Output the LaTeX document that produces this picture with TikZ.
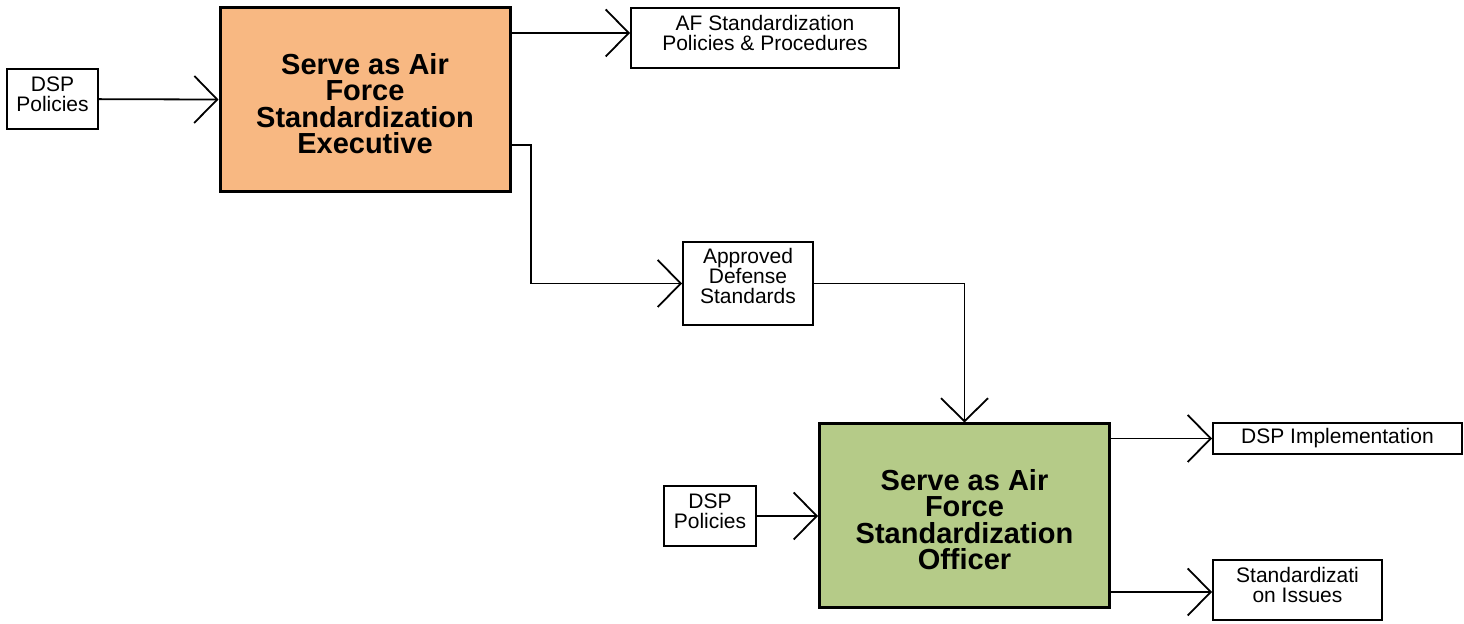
\documentclass[tikz,border=0pt]{standalone}
\usepackage{fontspec}
\setmainfont{Liberation Sans}
\usetikzlibrary{arrows.meta,positioning}

\definecolor{execorange}{RGB}{248,184,130}
\definecolor{offgreen}{RGB}{181,203,136}

\begin{document}
\begin{tikzpicture}[
    x=0.5pt, y=-0.5pt,
    item/.style={rectangle, draw=black, line width=1pt, fill=white,
      inner sep=0pt, align=center,
      font=\fontsize{10.5}{10.3}\selectfont},
    twoline/.style={text height=17.3pt, text depth=4.6pt},
    threeline/.style={text height=26.8pt, text depth=7pt,
      font=\fontsize{10.5}{9.9}\selectfont},
    task/.style={rectangle, draw=black, line width=1.5pt,
      inner sep=0pt, align=center,
      minimum width=145pt, minimum height=92pt,
      text height=60pt, text depth=6.4pt,
      font=\fontsize{14.5}{13.2}\selectfont\bfseries},
    arr/.style={-{Straight Barb[length=11.5pt, width=23.5pt, line width=0.9pt]},
      line width=0.9pt, draw=black}
  ]
    \useasboundingbox (0,0) rectangle (1464,624);

    \node[item, twoline, minimum width=45.5pt, minimum height=30pt] (dspin) at (52.5,99) {DSP\\Policies};
    \node[task, fill=execorange] (exec) at (365,100) {Serve as Air\\Force\\Standardization\\Executive};
    \node[item, twoline, minimum width=134pt, minimum height=30pt] (afpol) at (765,38) {AF Standardization\\Policies \& Procedures};
    \node[item, threeline, minimum width=65pt, minimum height=41.5pt] (ads) at (748,283.5) {Approved\\Defense\\Standards};

    \node[task, fill=offgreen] (off) at (964.5,516) {Serve as Air\\Force\\Standardization\\Officer};
    \node[item, twoline, minimum width=46pt, minimum height=30pt] (dspin2) at (710,516) {DSP\\Policies};
    \node[item, minimum width=124.5pt, minimum height=15.5pt] (dspimp) at (1337.5,438.5) {DSP Implementation};
    \node[item, twoline, minimum width=84.5pt, minimum height=30pt] (issues) at (1297.5,590) {Standardizati\\on Issues};

    \coordinate (bend) at (531,145);

    \draw[arr] (dspin) -- (exec);
    \draw[arr] ([yshift=2.5pt]exec.east |- afpol.west) -- ([yshift=2.5pt]afpol.west);
    \draw[arr] (exec.east |- bend) -- (bend) |- (ads.west);
    \draw[arr] (ads.east) -| (off.north);
    \draw[arr] (dspin2) -- (off);
    \draw[arr] (off.east |- dspimp.west) -- (dspimp.west);
    \draw[arr] ([yshift=-1pt]off.east |- issues.west) -- ([yshift=-1pt]issues.west);
  \end{tikzpicture}
\end{document}
